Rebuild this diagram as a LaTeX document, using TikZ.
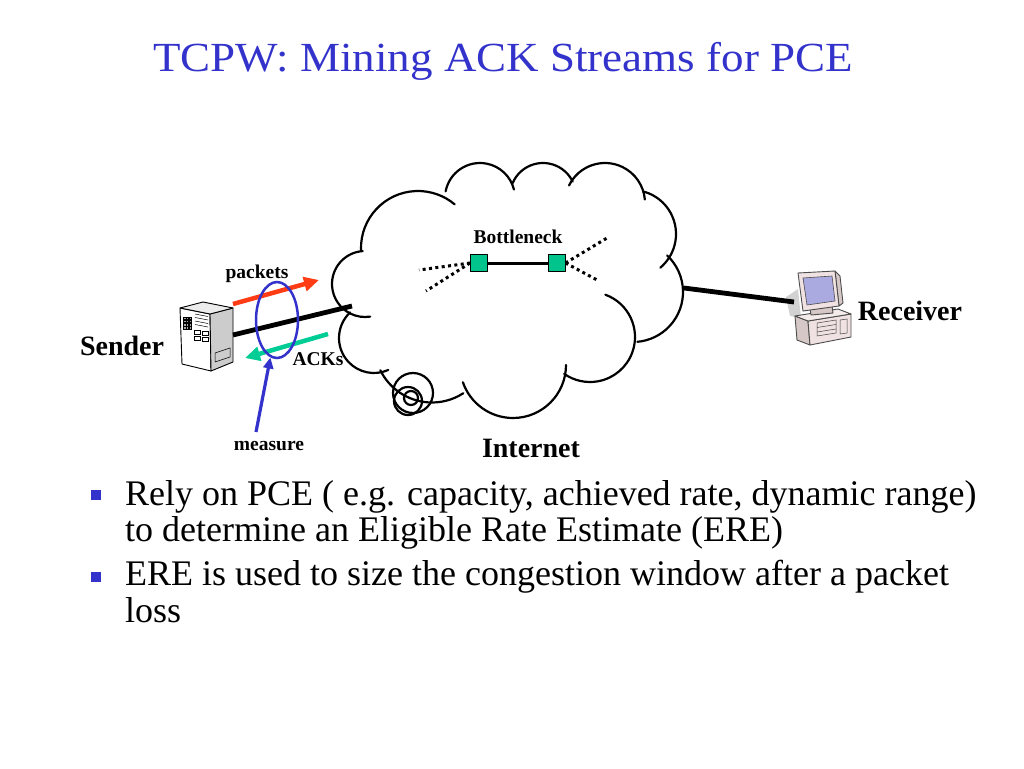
\documentclass[tikz,border=0pt]{standalone}
\usepackage{fontspec}
\setmainfont{Liberation Serif}
\usetikzlibrary{arrows.meta,shapes.geometric}
\definecolor{titleblue}{RGB}{51,51,204}
\definecolor{pktred}{RGB}{255,60,20}
\definecolor{ackgreen}{RGB}{0,204,150}
\definecolor{boxgreen}{RGB}{0,196,140}
\definecolor{screenblue}{RGB}{170,170,225}
\definecolor{pcbeige}{RGB}{240,226,226}
\definecolor{pcside}{RGB}{215,200,200}
\newcommand\mycarc[4]{\draw[cloudline] (#1) ++(#2:#4) arc[start angle=#2,end angle=#3,radius=#4];}
\begin{document}
\begin{tikzpicture}[x=1pt,y=-1pt,
  lbl/.style={font=\bfseries\fontsize{19.5}{20}\selectfont, inner sep=0pt, anchor=base},
  biglbl/.style={font=\bfseries\fontsize{28}{30}\selectfont, inner sep=0pt, anchor=base},
  bullettext/.style={font=\fontsize{36}{36}\selectfont, inner sep=0pt, anchor=base west},
  cloudline/.style={line width=2.2pt, line cap=round},
  thickline/.style={line width=4.8pt},
  dotline/.style={line width=3pt, dash pattern=on 3pt off 3.4pt},
  router/.style={draw=black, line width=1pt, fill=boxgreen, minimum width=17pt, minimum height=17pt, inner sep=0pt},
  bul/.style={fill=titleblue, minimum size=10pt, inner sep=0pt},
  flow/.style={line width=4.5pt, -{Triangle[length=15pt,width=14pt]}},
  icon/.style={draw=black, line width=0.9pt, line join=round}
]
\useasboundingbox (0,0) rectangle (1024,768);

% title
\node[font=\fontsize{45}{45}\selectfont, text=titleblue, inner sep=0pt, anchor=base] (title) at (503,71) {\scalebox{1}[0.92]{TCPW: Mining ACK Streams for PCE}};

% cloud
\mycarc{365,284}{266}{81}{33}
\mycarc{418,248}{178}{310}{57}
\mycarc{480,198}{191}{346}{35}
\mycarc{543,196}{203}{334}{33}
\mycarc{605,203}{206}{355}{40}
\mycarc{632,234}{286}{410}{44}
\mycarc{633,292}{313}{445}{50}
\mycarc{590,337}{290}{485}{45}
\mycarc{513,365}{0}{161}{53}
\mycarc{432,345}{154}{57}{57.5}
\mycarc{374,338}{227}{66}{35}
% loops
\draw[cloudline] (413,393) circle[radius=20];
\draw[cloudline] (408,401) circle[radius=14];
\draw[cloudline] (411,398) circle[radius=7];

% bottleneck
\node[router] (r1) at (479,263) {};
\node[router] (r2) at (556.5,263) {};
\draw[line width=3pt] (r1) -- (r2);
\coordinate (d1) at (419,270);
\coordinate (d2) at (426,291);
\coordinate (d3) at (607,238);
\coordinate (d4) at (599,281);
\draw[dotline] (r1.west) -- (d1);
\draw[dotline] (r1.west) -- (d2);
\draw[dotline] (r2.east) -- (d3);
\draw[dotline] (r2.east) -- (d4);
\node[lbl] (bn) at (518,243) {Bottleneck};
\node[biglbl] (inet) at (531,457) {Internet};

% sender server
\filldraw[icon, fill=white] (180,308) -- (210,314) -- (211,371) -- (182,364) -- cycle;
\filldraw[icon, fill=gray!40] (210,314) -- (233,308) -- (233,362) -- (211,371) -- cycle;
\filldraw[icon, fill=gray!15] (180,308) -- (203,302) -- (233,308) -- (210,314) -- cycle;
\foreach \i in {0,1,2} \foreach \j in {0,1,2,3}
  \filldraw[fill=gray!70, draw=black, line width=0.3pt] (183.5+\i*2.8,317+\j*3.2) rectangle +(2.2,2.4);
\foreach \j in {0,1,2,3}
  \draw[line width=0.5pt] (195,314+\j*3.5) -- (208,316.5+\j*3.5);
\foreach \j in {0,1}{
  \draw[line width=0.5pt] (194,330+\j*6) rectangle +(6,4);
  \draw[line width=0.5pt] (202,331.5+\j*6) rectangle +(6,4);}
\draw[line width=0.5pt] (215,353) -- (230,348) -- (230,357) -- (215,362) -- cycle;
\coordinate (srvport) at (233,335);
\node[biglbl] (sender) at (122,355) {Sender};

% receiver computer
\fill[gray!35] (786,297) -- (798,289) -- (801,318) -- (790,316) -- cycle;
\filldraw[icon, draw=gray!60!black, fill=pcside] (795,316) -- (808,321) -- (810,345) -- (797,340) -- cycle;
\filldraw[icon, draw=gray!60!black, fill=pcbeige] (808,321) -- (851,314) -- (851,337) -- (810,345) -- cycle;
\filldraw[icon, draw=gray!60!black, fill=pcbeige!70!white] (795,316) -- (838,309) -- (851,314) -- (808,321) -- cycle;
\draw[gray!50!black, line width=0.5pt] (817,323) -- (836,320) -- (836,333) -- (817,336) -- cycle;
\draw[gray!50!black, line width=0.5pt] (817,327.5) -- (836,324.5);
\draw[gray!50!black, line width=0.5pt] (817,332) -- (836,329);
\draw[gray!50!black, line width=0.5pt] (840,320) -- (847,319) -- (847,333) -- (840,334) -- cycle;
\filldraw[icon, draw=gray!60!black, fill=pcside] (810,309) -- (832,306) -- (833,313) -- (811,315) -- cycle;
\filldraw[icon, draw=gray!60!black, fill=pcside] (835,271) -- (840,276) -- (843,303) -- (839,306) -- cycle;
\filldraw[icon, draw=gray!60!black, fill=pcbeige] (798,273) -- (835,271) -- (839,306) -- (803,311) -- cycle;
\filldraw[draw=gray!60!black, line width=0.6pt, fill=screenblue] (803,278) -- (832,276) -- (835,301) -- (807,305) -- cycle;
\coordinate (pcport) at (794,302);
\node[biglbl] (receiver) at (910,320) {Receiver};

% links
\coordinate (cloudL) at (352,306);
\coordinate (cloudR) at (684,288);
\draw[thickline] (srvport) -- (cloudL);
\draw[thickline] (cloudR) -- (pcport);

% flows
\coordinate (pktA) at (233,304);
\coordinate (pktB) at (319,280);
\coordinate (ackA) at (328,334);
\coordinate (ackB) at (245,358);
\draw[flow, pktred] (pktA) -- (pktB);
\draw[flow, ackgreen] (ackA) -- (ackB);
\node[lbl] (packets) at (257,278) {packets};
\node[lbl] (acks) at (318,365) {ACKs};

% measure
\node[draw=titleblue, line width=2.5pt, ellipse, minimum width=42pt, minimum height=76pt, inner sep=0pt] (meas) at (277,320) {};
\node[lbl] (measure) at (269,450) {measure};
\coordinate (mtail) at (256,432);
\draw[line width=3.2pt, titleblue, -{Triangle[length=11pt,width=10pt]}] (mtail) -- (meas.-100);

% bullets
\node[bul] (b1) at (95.5,495) {};
\node[bul] (b2) at (95.5,577) {};
\node[bullettext] (t1) at (125,505) {Rely on PCE ( e.g. capacity, achieved rate, dynamic range)};
\node[bullettext] (t2) at (125,541) {to determine an Eligible Rate Estimate (ERE)};
\node[bullettext] (t3) at (125,585) {ERE is used to size the congestion window after a packet};
\node[bullettext] (t4) at (125,622) {loss};
\end{tikzpicture}
\end{document}
